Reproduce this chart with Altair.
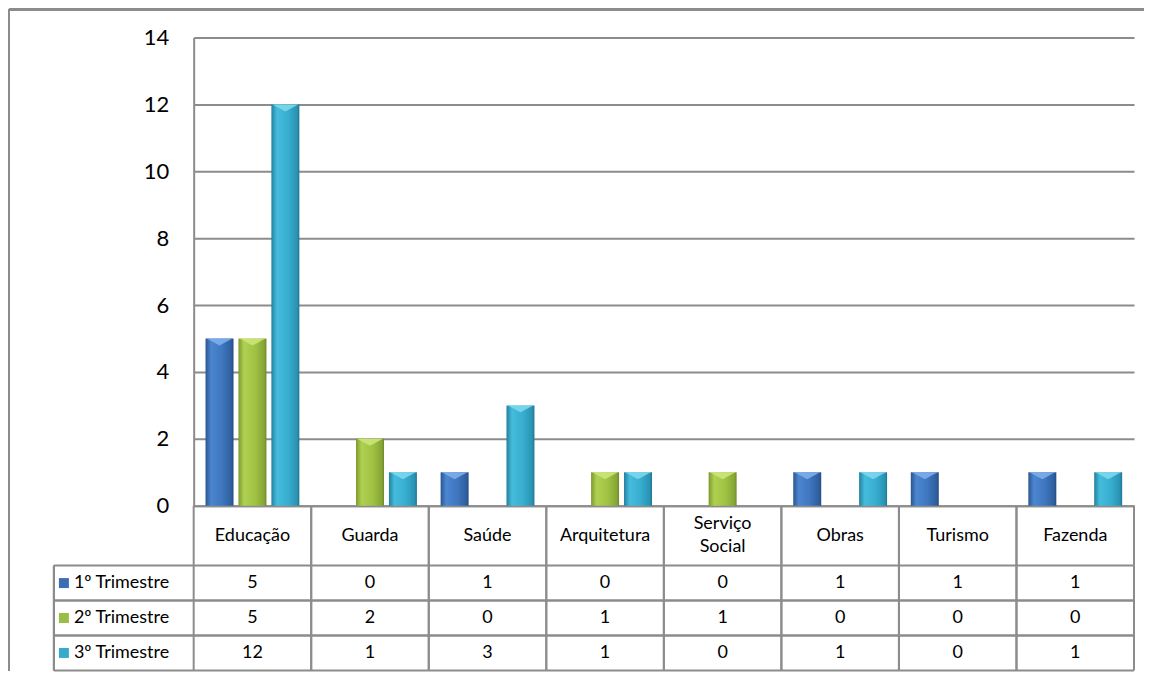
import altair as alt
import pandas as pd

categories = ["Educação", "Guarda", "Saúde", "Arquitetura", "Serviço Social", "Obras", "Turismo", "Fazenda"]
header_labels = ["Educação", "Guarda", "Saúde", "Arquitetura", "Serviço\nSocial", "Obras", "Turismo", "Fazenda"]
header_lines = [1, 1, 1, 1, 2, 1, 1, 1]
series = ["1º Trimestre", "2º Trimestre", "3º Trimestre"]
t1 = [5, 0, 1, 0, 0, 1, 1, 1]
t2 = [5, 2, 0, 1, 1, 0, 0, 0]
t3 = [12, 1, 3, 1, 0, 1, 0, 1]
y_ticks = [0, 2, 4, 6, 8, 10, 12, 14]

values_by_series = {series[0]: t1, series[1]: t2, series[2]: t3}
rows = []
for s in series:
    for c, v in zip(categories, values_by_series[s]):
        rows.append({"cat": c, "series": s, "value": v})
df = pd.DataFrame(rows)
hdr = pd.DataFrame({"cat": categories, "label": header_labels, "lines": header_lines})
ser_df = pd.DataFrame({"series": series})

FONT = "Lato"
LINE = "#8C8C8C"
LW = 2
W, H_PLOT, H_HDR, H_TBL = 942, 469, 60, 105
LH = 23

solid = ["#3A6FB6", "#9CBD45", "#35AACB"]
grads = [
    [("#2B568F", 0), ("#4C86D0", 0.2), ("#3E76BF", 0.6), ("#2F5E9E", 0.92), ("#244B80", 1)],
    [("#7C9A2E", 0), ("#AFD051", 0.2), ("#A0C243", 0.6), ("#86A536", 0.92), ("#6C8828", 1)],
    [("#23809E", 0), ("#45BCDC", 0.2), ("#37AECF", 0.6), ("#2A92B2", 0.92), ("#1F7590", 1)],
]
bevel = ["#7EAEEA", "#CBE57A", "#7ED6EE"]

cat_scale = alt.Scale(domain=categories, paddingInner=0, paddingOuter=0)
x_enc = alt.X("cat:N", sort=categories, scale=cat_scale,
              axis=alt.Axis(labels=False, ticks=False, title=None, domainColor=LINE, domainWidth=LW, grid=False))
x_plain = alt.X("cat:N", sort=categories, scale=cat_scale, axis=None)
off_enc = alt.XOffset("series:N", sort=series,
                      scale=alt.Scale(domain=series, paddingInner=0.15, paddingOuter=0.36))
y_enc = alt.Y("value:Q", scale=alt.Scale(domain=[0, 14], nice=False),
              axis=alt.Axis(values=y_ticks, title=None, ticks=False, labelPadding=25,
                            labelFontSize=22, labelFont=FONT, labelColor="black",
                            gridColor=LINE, gridWidth=LW, domainColor=LINE, domainWidth=LW))

layers = []
for i, s in enumerate(series):
    grad = alt.Gradient(gradient="linear", x1=0, x2=1, y1=0, y2=0,
                        stops=[alt.GradientStop(color=c, offset=o) for c, o in grads[i]])
    base = alt.Chart(df).transform_filter(
        (alt.datum.series == s) & (alt.datum.value > 0))
    layers.append(base.mark_bar(color=grad, stroke=None).encode(x=x_enc, xOffset=off_enc, y=y_enc))
    layers.append(base.mark_point(shape="M-0.92,0L0.92,0L0,0.5Z", size=784, filled=True,
                                  fill=bevel[i], opacity=0.9, strokeWidth=0)
                  .encode(x=x_enc, xOffset=off_enc, y=y_enc))

# outer chart frame (decoration)
frame_top = alt.Chart(hdr).mark_rule(color=LINE, strokeWidth=LW).encode(
    x=alt.value(-185), x2=alt.value(952), y=alt.value(-28))
frame_left = alt.Chart(hdr).mark_rule(color=LINE, strokeWidth=LW).encode(
    x=alt.value(-185), y=alt.value(-28), y2=alt.value(634))

plot = alt.layer(*layers, frame_top, frame_left).properties(width=W, height=H_PLOT)

# header row
hdr_text1 = alt.Chart(hdr).transform_filter(alt.datum.lines == 1).mark_text(
    font=FONT, fontSize=18, baseline="middle", align="center", color="black").encode(
    x=x_plain, y=alt.value(H_HDR / 2), text="label:N")
hdr_text2 = alt.Chart(hdr).transform_filter(alt.datum.lines == 2).mark_text(
    font=FONT, fontSize=18, lineBreak="\n", lineHeight=LH, dy=-LH / 2,
    baseline="middle", align="center", color="black").encode(
    x=x_plain, y=alt.value(H_HDR / 2), text="label:N")
hdr_vl = alt.Chart(hdr).mark_rule(color=LINE, strokeWidth=LW).encode(
    x=alt.X("cat:N", sort=categories, bandPosition=0, scale=cat_scale, axis=None),
    y=alt.value(0), y2=alt.value(H_HDR))
hdr_vr = alt.Chart(hdr).mark_rule(color=LINE, strokeWidth=LW).encode(
    x=alt.X("cat:N", sort=categories, bandPosition=1, scale=cat_scale, axis=None),
    y=alt.value(0), y2=alt.value(H_HDR))
header = alt.layer(hdr_vl, hdr_vr, hdr_text1, hdr_text2).properties(width=W, height=H_HDR)

# data table
row_scale = alt.Scale(domain=series, paddingInner=0, paddingOuter=0)
y_row = alt.Y("series:N", sort=series, scale=row_scale, axis=None)
tbl_text = alt.Chart(df).mark_text(font=FONT, fontSize=18, baseline="middle", align="center",
                                   color="black").encode(x=x_plain, y=y_row, text="value:Q")
tbl_vl = alt.Chart(hdr).mark_rule(color=LINE, strokeWidth=LW).encode(
    x=alt.X("cat:N", sort=categories, bandPosition=0, scale=cat_scale, axis=None),
    y=alt.value(0), y2=alt.value(H_TBL))
tbl_vr = alt.Chart(hdr).mark_rule(color=LINE, strokeWidth=LW).encode(
    x=alt.X("cat:N", sort=categories, bandPosition=1, scale=cat_scale, axis=None),
    y=alt.value(0), y2=alt.value(H_TBL))
tbl_ht = alt.Chart(ser_df).mark_rule(color=LINE, strokeWidth=LW).encode(
    x=alt.value(-140), x2=alt.value(W),
    y=alt.Y("series:N", sort=series, bandPosition=0, scale=row_scale, axis=None))
tbl_hb = alt.Chart(ser_df).mark_rule(color=LINE, strokeWidth=LW).encode(
    x=alt.value(-140), x2=alt.value(W),
    y=alt.Y("series:N", sort=series, bandPosition=1, scale=row_scale, axis=None))
tbl_left = alt.Chart(ser_df).mark_rule(color=LINE, strokeWidth=LW).encode(
    x=alt.value(-140), y=alt.value(0), y2=alt.value(H_TBL))
swatch = alt.Chart(ser_df).mark_square(size=100, opacity=1).encode(
    x=alt.value(-130), y=y_row,
    color=alt.Color("series:N", scale=alt.Scale(domain=series, range=solid), legend=None))
leg_text = alt.Chart(ser_df).mark_text(font=FONT, fontSize=18, align="left", baseline="middle",
                                       color="black").encode(
    x=alt.value(-120), y=y_row, text="series:N")
table = alt.layer(tbl_vl, tbl_vr, tbl_ht, tbl_hb, tbl_left, tbl_text, swatch, leg_text).properties(
    width=W, height=H_TBL)

chart = alt.vconcat(plot, header, table, spacing=0, bounds="flush").properties(
    padding=0, background="white").configure_view(stroke=None)

chart.save("out.html", embed_options={"renderer": "svg", "actions": False})
